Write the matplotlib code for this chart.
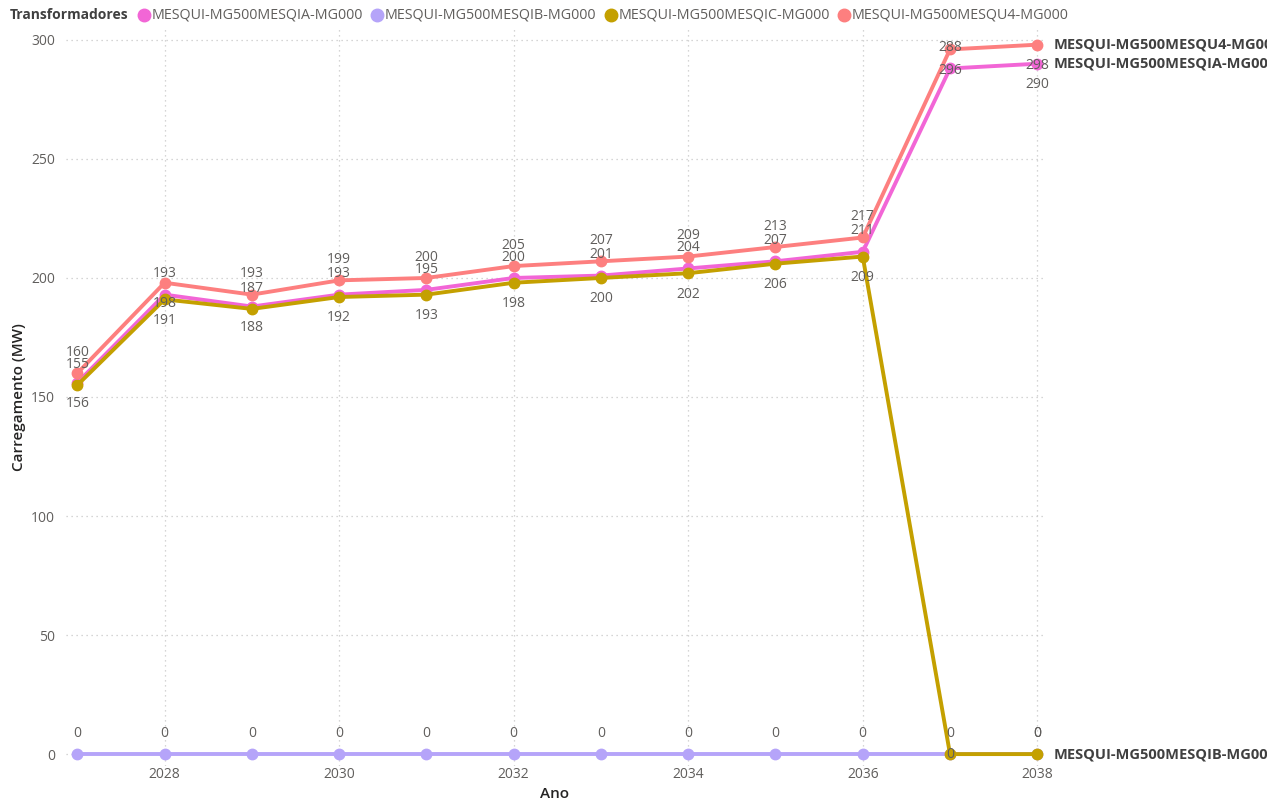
import matplotlib
matplotlib.use('Agg')
import matplotlib.pyplot as plt
from matplotlib.lines import Line2D

plt.rcParams['font.family'] = ['Open Sans', 'DejaVu Sans']

#Data section ---------------------------------------------
anos = [2027, 2028, 2029, 2030, 2031, 2032, 2033, 2034, 2035, 2036, 2037, 2038]
nomes = ['MESQUI-MG500MESQIA-MG000', 'MESQUI-MG500MESQIB-MG000',
         'MESQUI-MG500MESQIC-MG000', 'MESQUI-MG500MESQU4-MG000']
mesqia = [156, 193, 188, 193, 195, 200, 201, 204, 207, 211, 288, 290]
mesqib = [0, 0, 0, 0, 0, 0, 0, 0, 0, 0, 0, 0]
mesqic = [155, 191, 187, 192, 193, 198, 200, 202, 206, 209, 0, 0]
mesqu4 = [160, 198, 193, 199, 200, 205, 207, 209, 213, 217, 296, 298]
y_ticks = [0, 50, 100, 150, 200, 250, 300]
x_ticks = [2028, 2030, 2032, 2034, 2036, 2038]

#Style section --------------------------------------------
cores = ['#F266D6', '#B5A4F9', '#C4A000', '#FD7F7F']
# label side per point: 1 above, -1 below, 0 on the point
lado_ia = [-1, 1, -1, 1, 1, 1, 1, 1, 1, 1, 1, -1]
lado_ib = [1, 1, 1, 1, 1, 1, 1, 1, 1, 1, 1, 1]
lado_ic = [1, -1, 1, -1, -1, -1, -1, -1, -1, -1, 0, 1]
lado_u4 = [1, -1, 1, 1, 1, 1, 1, 1, 1, 1, -1, -1]
cinza = '#605E5C'
fs = 10

fig = plt.figure(figsize=(12.67, 8.01), dpi=100)
ax = fig.add_axes([66/1267, 35/801, (1046-66)/1267, (773-35)/801])

series = [mesqia, mesqib, mesqic, mesqu4]
lados = [lado_ia, lado_ib, lado_ic, lado_u4]
for i, (vals, lado) in enumerate(zip(series, lados)):
    ax.plot(anos, vals, '-o', color=cores[i], lw=2.8, ms=7.5, zorder=3+i, clip_on=False)
    for a, v, s in zip(anos, vals, lado):
        ax.annotate(str(v), (a, v), xytext=(0, 15*s), textcoords='offset points',
                    ha='center', va='center', fontsize=fs, color=cinza, zorder=10)

# end labels
for vals, nome in [(mesqu4, nomes[3]), (mesqia, nomes[0]), (mesqib, nomes[1])]:
    ax.annotate(nome, (anos[-1], vals[-1]), xytext=(12, 0), textcoords='offset points',
                ha='left', va='center', fontsize=10.5, fontweight='bold', color='#404040',
                annotation_clip=False)

ax.set_xlim(2026.87, 2038.1)
ax.set_ylim(-5, 305)
ax.set_xticks(x_ticks)
ax.set_yticks(y_ticks)
ax.tick_params(length=0, labelsize=fs, colors=cinza)
ax.tick_params(axis='y', pad=8)
ax.tick_params(axis='x', pad=1)
ax.grid(True, linestyle=(0, (1, 3)), color='#C8C8C8', lw=0.9)
for sp in ax.spines.values():
    sp.set_visible(False)
ax.set_xlabel('Ano', fontsize=11, color='#252423', fontweight='semibold')
ax.set_ylabel('Carregamento (MW)', fontsize=11, color='#252423', fontweight='semibold')
ax.xaxis.set_label_coords(0.5, -0.0, transform=None)
ax.xaxis.set_label_coords((555-66)/(1046-66), -(793-766)/(766-28) - 0.002)
ax.yaxis.set_label_coords(-(66-19)/(1046-66), 0.5)
ax.xaxis.label.set_va('center')
ax.yaxis.label.set_va('center')

# legend on top, Power BI style
renderer = fig.canvas.get_renderer()
ly = 1 - 15/801
t = fig.text(10/1267, ly, 'Transformadores', fontsize=fs, fontweight='bold',
             color='#404040', va='center')
x = t.get_window_extent(renderer).x1 + 15
for nome, c in zip(nomes, cores):
    fig.add_artist(Line2D([x/1267], [ly], marker='o', ms=9, color=c, lw=0,
                          transform=fig.transFigure))
    t = fig.text((x + 8)/1267, ly, nome, fontsize=10.3, color=cinza, va='center')
    x = t.get_window_extent(renderer).x1 + 14

fig.savefig('out.png', dpi=100)
